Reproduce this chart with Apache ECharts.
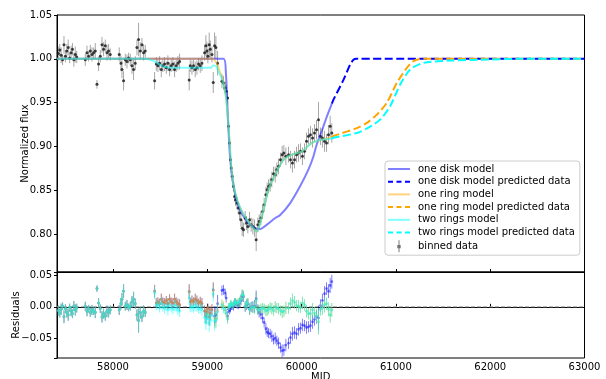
<!DOCTYPE html>
<html>
<head>
<meta charset="utf-8">
<script src="https://cdn.jsdelivr.net/npm/echarts@6.0.0/dist/echarts.min.js"></script>
<style>
  html, body { margin: 0; padding: 0; background: #fff; }
  #chart { width: 606px; height: 379px; }
</style>
</head>
<body>
<div id="chart"></div>
<script>
// binned light curve: MJD, normalized flux, 1-sigma error
const mjd = [
  57420, 57435, 57450, 57465, 57480, 57495, 57510, 57525, 57540, 57555, 57570, 57585, 57600, 57615,
  57706, 57724, 57741, 57759, 57777, 57794, 57812, 57830, 57847, 57865, 57883, 57900, 57918, 57936, 57953, 57971,
  58066, 58084, 58095, 58112, 58130, 58148, 58165, 58183, 58201, 58218, 58236, 58254, 58271, 58289, 58307, 58324, 58342,
  58441, 58459, 58476, 58494, 58512, 58529, 58547, 58565, 58582, 58600, 58617, 58635, 58653, 58670, 58688, 58706,
  58808, 58819, 58837, 58854, 58872, 58890, 58907, 58925, 58943,
  58971, 58985, 58996, 59006, 59020, 59031, 59049, 59063, 59077, 59091, 59109,
  59155, 59172, 59190, 59200, 59215, 59225, 59236, 59246, 59253, 59264,
  59278, 59289, 59299, 59314, 59328, 59342, 59356, 59370, 59384, 59402,
  59416, 59430, 59448, 59465, 59483, 59501, 59518, 59536, 59550, 59568,
  59586, 59603, 59621, 59635, 59649, 59667, 59684, 59702, 59720, 59737,
  59755, 59776, 59794, 59812, 59833, 59861, 59882, 59903, 59925, 59946,
  59967, 59988, 60009, 60031, 60052, 60073, 60094, 60116, 60137, 60158,
  60179, 60200, 60221, 60243, 60264, 60285, 60303, 60320
];
const flux = [
  1.006, 1.010, 1.004, 0.999, 1.016, 1.003, 1.009, 1.013, 1.001, 1.007, 1.011, 0.999, 1.005, 1.002,
  0.999, 1.007, 1.003, 1.009, 1.005, 1.007, 1.009, 0.971, 0.994, 1.003, 1.016, 1.011, 1.015, 1.007, 1.009, 1.005,
  1.005, 0.995, 0.988, 0.975, 0.999, 0.997, 1.001, 0.999, 0.992, 0.988, 0.995, 1.013, 1.022, 1.009, 1.016, 1.007, 1.009,
  0.975, 0.994, 0.992, 0.995, 0.988, 0.992, 0.994, 0.990, 0.995, 0.988, 0.992, 0.994, 0.988, 0.992, 0.995, 0.997,
  0.976, 0.992, 0.990, 0.992, 0.988, 0.990, 0.994, 0.992, 0.995,
  1.007, 1.015, 1.009, 1.003, 1.016, 1.011, 1.005, 0.973, 1.015, 1.013, 0.995,
  0.9745, 0.9726, 0.9669, 0.9631, 0.9555, 0.9231, 0.9041, 0.8851, 0.8756, 0.8661,
  0.8546, 0.8432, 0.8394, 0.8356, 0.8299, 0.8242, 0.8166, 0.8070, 0.8052, 0.8185,
  0.8128, 0.8090, 0.8166, 0.8109, 0.8090, 0.8070, 0.7938, 0.8109, 0.8147, 0.8185,
  0.8261, 0.8337, 0.8451, 0.8508, 0.8546, 0.8565, 0.8623, 0.8691, 0.8680, 0.8737,
  0.8775, 0.8851, 0.8908, 0.8927, 0.8889, 0.8908, 0.8851, 0.8813, 0.8851, 0.8908,
  0.8927, 0.8946, 0.8889, 0.8946, 0.9060, 0.9117, 0.9136, 0.9098, 0.9155, 0.9193,
  0.9307, 0.9117, 0.9098, 0.9060, 0.9041, 0.9136, 0.9231, 0.9155
];
const fluxErr = [
  0.008, 0.007, 0.009, 0.006, 0.010, 0.007, 0.008, 0.009, 0.006, 0.008, 0.007, 0.008, 0.009, 0.007,
  0.007, 0.008, 0.006, 0.007, 0.008, 0.006, 0.009, 0.005, 0.008, 0.007, 0.009, 0.008, 0.007, 0.009, 0.008, 0.007,
  0.008, 0.009, 0.010, 0.011, 0.007, 0.008, 0.006, 0.007, 0.009, 0.012, 0.008, 0.009, 0.019, 0.010, 0.008, 0.009, 0.007,
  0.010, 0.008, 0.007, 0.008, 0.009, 0.007, 0.008, 0.007, 0.009, 0.008, 0.007, 0.008, 0.009, 0.007, 0.008, 0.009,
  0.012, 0.007, 0.008, 0.007, 0.009, 0.008, 0.007, 0.008, 0.009,
  0.009, 0.012, 0.010, 0.008, 0.014, 0.010, 0.009, 0.012, 0.015, 0.013, 0.014,
  0.008, 0.008, 0.007, 0.007, 0.008, 0.006, 0.006, 0.006, 0.006, 0.006,
  0.006, 0.006, 0.007, 0.007, 0.007, 0.008, 0.008, 0.009, 0.008, 0.008,
  0.008, 0.008, 0.009, 0.008, 0.009, 0.010, 0.013, 0.008, 0.008, 0.008,
  0.008, 0.008, 0.009, 0.008, 0.008, 0.008, 0.009, 0.008, 0.009, 0.008,
  0.009, 0.008, 0.010, 0.009, 0.010, 0.009, 0.010, 0.011, 0.010, 0.009,
  0.010, 0.009, 0.010, 0.009, 0.010, 0.009, 0.010, 0.011, 0.010, 0.011,
  0.020, 0.010, 0.011, 0.012, 0.010, 0.011, 0.012, 0.011
];

// residuals (model - data) for each model, same points as above
const resDisk = [
  -0.006, -0.010, -0.004, 0.001, -0.016, -0.003, -0.009, -0.013, -0.001, -0.007, -0.011, 0.001, -0.005, -0.002,
  0.001, -0.007, -0.003, -0.009, -0.005, -0.007, -0.009, 0.029, 0.006, -0.003, -0.016, -0.011, -0.015, -0.007, -0.009, -0.005,
  -0.005, 0.005, 0.012, 0.025, 0.001, 0.003, -0.001, 0.001, 0.008, 0.012, 0.005, -0.013, -0.022, -0.009, -0.016, -0.007, -0.009,
  0.025, 0.006, 0.008, 0.005, 0.012, 0.008, 0.006, 0.010, 0.005, 0.012, 0.008, 0.006, 0.012, 0.008, 0.005, 0.003,
  0.024, 0.008, 0.010, 0.008, 0.012, 0.010, 0.006, 0.008, 0.005,
  -0.007, -0.015, -0.009, -0.003, -0.016, -0.011, -0.005, 0.027, -0.015, -0.013, 0.005,
  0.026, 0.027, 0.022, 0.014, -0.015, -0.004, -0.006, -0.003, 0.001, 0.001,
  0.000, 0.007, 0.007, 0.004, 0.003, 0.006, 0.010, 0.017, 0.016, 0.000,
  0.003, 0.005, -0.004, 0.000, 0.000, 0.001, 0.013, -0.004, -0.009, -0.012,
  -0.018, -0.025, -0.035, -0.040, -0.042, -0.043, -0.047, -0.052, -0.050, -0.054,
  -0.058, -0.065, -0.070, -0.069, -0.061, -0.058, -0.049, -0.043, -0.041, -0.043,
  -0.036, -0.034, -0.029, -0.030, -0.033, -0.032, -0.030, -0.024, -0.020, -0.016,
  -0.018, 0.002, 0.010, 0.021, 0.029, 0.025, 0.034, 0.040
];
const resRing = [
  -0.006, -0.010, -0.004, 0.001, -0.016, -0.003, -0.009, -0.013, -0.001, -0.007, -0.011, 0.001, -0.005, -0.002,
  0.001, -0.007, -0.003, -0.009, -0.005, -0.007, -0.009, 0.029, 0.006, -0.003, -0.016, -0.011, -0.015, -0.007, -0.009, -0.005,
  -0.005, 0.005, 0.012, 0.025, 0.001, 0.003, -0.001, 0.001, 0.008, 0.012, 0.005, -0.013, -0.022, -0.009, -0.016, -0.007, -0.009,
  0.025, 0.006, 0.008, 0.005, 0.012, 0.008, 0.006, 0.010, 0.005, 0.012, 0.008, 0.006, 0.012, 0.008, 0.005, 0.003,
  0.024, 0.008, 0.010, 0.008, 0.012, 0.010, 0.006, 0.008, 0.005,
  -0.007, -0.015, -0.009, -0.003, -0.016, -0.011, -0.005, 0.026, -0.019, -0.020, -0.006,
  0.004, 0.001, -0.005, -0.010, -0.019, 0.000, 0.001, 0.004, 0.005, 0.002,
  0.004, 0.008, 0.007, 0.005, 0.007, 0.008, 0.012, 0.019, 0.018, 0.001,
  0.005, 0.006, -0.004, -0.001, -0.001, -0.001, 0.010, -0.005, -0.005, -0.003,
  -0.002, -0.003, -0.006, -0.006, -0.004, -0.001, -0.003, -0.006, 0.000, -0.002,
  -0.003, -0.006, -0.008, -0.007, -0.002, -0.002, 0.005, 0.010, 0.007, 0.002,
  0.001, -0.001, 0.006, 0.003, -0.007, -0.011, -0.011, -0.005, -0.010, -0.014,
  -0.024, -0.004, -0.002, 0.003, 0.005, -0.004, -0.013, -0.005
];
const resTwo = [
  -0.006, -0.010, -0.004, 0.001, -0.016, -0.003, -0.009, -0.013, -0.001, -0.007, -0.011, 0.001, -0.005, -0.002,
  0.001, -0.007, -0.003, -0.009, -0.005, -0.007, -0.009, 0.029, 0.006, -0.003, -0.016, -0.011, -0.015, -0.007, -0.009, -0.005,
  -0.005, 0.005, 0.012, 0.025, 0.001, 0.003, -0.001, 0.001, 0.008, 0.012, 0.005, -0.013, -0.022, -0.009, -0.016, -0.007, -0.009,
  0.022, 0.002, 0.003, -0.001, 0.005, -0.001, -0.003, 0.001, -0.005, 0.002, -0.002, -0.004, 0.002, -0.002, -0.005, -0.007,
  0.014, -0.002, 0.000, -0.002, 0.002, 0.000, -0.004, -0.002, -0.005,
  -0.017, -0.025, -0.019, -0.013, -0.026, -0.021, -0.014, 0.020, -0.023, -0.021, -0.008,
  0.003, -0.002, -0.005, -0.010, -0.019, 0.000, 0.001, 0.004, 0.005, 0.002,
  0.004, 0.008, 0.007, 0.005, 0.007, 0.008, 0.012, 0.019, 0.018, 0.001,
  0.005, 0.006, -0.004, -0.001, -0.001, -0.001, 0.010, -0.005, -0.005, -0.003,
  -0.002, -0.003, -0.006, -0.006, -0.004, -0.001, -0.003, -0.006, 0.000, -0.002,
  -0.003, -0.006, -0.008, -0.007, -0.002, -0.002, 0.005, 0.010, 0.007, 0.002,
  0.001, -0.001, 0.006, 0.003, -0.007, -0.011, -0.011, -0.005, -0.010, -0.014,
  -0.024, -0.004, -0.002, 0.003, 0.005, -0.004, -0.013, -0.005
];

// model curves (fit range) and predictions after the last data point
const diskMjd = [57406, 59172, 59197, 59219, 59243, 59278, 59331, 59420, 59508, 59562, 59632, 59720, 59773, 59879, 59985, 60073, 60126, 60162, 60215, 60260, 60321];
const diskFlux = [1.0, 1.0, 0.984, 0.931, 0.885, 0.855, 0.832, 0.8146, 0.807, 0.806, 0.811, 0.8185, 0.822, 0.8356, 0.855, 0.874, 0.889, 0.903, 0.918, 0.932, 0.949];
const diskPredMjd = [60321, 60338, 60444, 60515, 60550, 60580, 63000];
const diskPredFlux = [0.949, 0.9535, 0.976, 0.9935, 0.999, 1.0, 1.0];

const ringMjd = [57406, 59056, 59137, 59172, 59190, 59209, 59225, 59243, 59261, 59296, 59349, 59420, 59490, 59526, 59561, 59596, 59649, 59720, 59808, 59897, 60003, 60109, 60215, 60321];
const ringFlux = [1.0, 1.0, 0.984, 0.974, 0.962, 0.945, 0.923, 0.893, 0.870, 0.847, 0.830, 0.8165, 0.807, 0.803, 0.8128, 0.828, 0.8508, 0.868, 0.8851, 0.8908, 0.8946, 0.9041, 0.9079, 0.9106];
const ringPredMjd = [60321, 60338, 60586, 60692, 60798, 60904, 61010, 61116, 61180, 61239, 61300, 63000];
const ringPredFlux = [0.9106, 0.912, 0.921, 0.927, 0.9364, 0.950, 0.9726, 0.9897, 0.997, 0.9995, 1.0, 1.0];

const twoMjd = [57406, 58342, 58420, 58480, 58530, 58600, 59040, 59060, 59090, 59120, 59155, 59172, 59190, 59209, 59225, 59243, 59261, 59296, 59349, 59420, 59490, 59526, 59561, 59596, 59649, 59720, 59808, 59897, 60003, 60109, 60215, 60321];
const twoFlux = [1.0, 1.0, 0.998, 0.9945, 0.9915, 0.990, 0.990, 0.9925, 0.992, 0.985, 0.977, 0.971, 0.962, 0.945, 0.923, 0.893, 0.870, 0.847, 0.830, 0.8165, 0.807, 0.803, 0.8128, 0.828, 0.8508, 0.868, 0.8851, 0.8908, 0.8946, 0.9041, 0.9079, 0.909];
const twoPredMjd = [60321, 60338, 60586, 60700, 60833, 60939, 61045, 61151, 61292, 61575, 61900, 62300, 63000];
const twoPredFlux = [0.909, 0.910, 0.9155, 0.921, 0.9307, 0.946, 0.9707, 0.9878, 0.9954, 0.998, 0.999, 1.0, 1.0];

// tick labels
const xTicks = [58000, 59000, 60000, 61000, 62000, 63000];
const fluxTicks = [0.80, 0.85, 0.90, 0.95, 1.00, 1.05];
const resTicks = [-0.05, 0.00, 0.05];

const font = "DejaVu Sans";
const zip = (xs, ys) => xs.map((x, i) => [x, ys[i]]);
const near = (list, v) => list.some(t => Math.abs(t - v) < 1e-7);

// legend handles, drawn like matplotlib's
const solidIcon = "path://M0,0H22V2H0Z";
const dashedIcon = "path://M0,0H5V2H0Z M8.5,0H13.5V2H8.5Z M17,0H22V2H17Z";
const errIcon = "path://M4.6,0H5.4V10H4.6Z M3.6,4H6.4V6.8H3.6Z";

// error bar + dot drawn in data coords
function errorBars(barColor, dotColor, r) {
  return function (params, api) {
    const x = api.value(0), y = api.value(1), e = api.value(2);
    const top = api.coord([x, y + e]);
    const bot = api.coord([x, y - e]);
    const mid = api.coord([x, y]);
    return {
      type: "group",
      children: [
        { type: "line", shape: { x1: top[0], y1: top[1], x2: bot[0], y2: bot[1] }, style: { stroke: barColor, lineWidth: 1 } },
        { type: "circle", shape: { cx: mid[0], cy: mid[1], r: r }, style: { fill: dotColor } }
      ]
    };
  };
}

function modelLine(name, data, color, dashed) {
  return {
    name: name,
    type: "line",
    xAxisIndex: 0,
    yAxisIndex: 0,
    data: data,
    symbol: "none",
    smooth: 0.25,
    z: 3,
    lineStyle: { color: color, width: 2, type: dashed ? [8, 3.5] : "solid" },
    itemStyle: { color: color }
  };
}

function residualSeries(name, res, color) {
  return {
    name: name,
    type: "custom",
    xAxisIndex: 1,
    yAxisIndex: 1,
    clip: true,
    encode: { x: 0, y: 1 },
    data: mjd.map((m, i) => [m, res[i], fluxErr[i]]),
    renderItem: errorBars(color, color, 1.4),
    z: 2
  };
}

const chart = echarts.init(document.getElementById("chart"));
const axisText = { color: "#000", fontFamily: font, fontSize: 10 };

const option = {
  animation: false,
  backgroundColor: "#fff",
  textStyle: { fontFamily: font },
  grid: [
    { left: 57, right: 21.5, top: 15, height: 257, outerBoundsMode: "none", show: true, borderColor: "#000", borderWidth: 1 },
    { left: 57, right: 21.5, top: 272, height: 86, outerBoundsMode: "none", show: true, borderColor: "#000", borderWidth: 1 }
  ],
  xAxis: [
    {
      gridIndex: 0, type: "value", min: 57406, max: 63000,
      axisLine: { lineStyle: { color: "#000" } },
      axisTick: { inside: true, length: 3, lineStyle: { color: "#000" } },
      axisLabel: { show: false },
      splitLine: { show: false }
    },
    {
      gridIndex: 1, type: "value", min: 57406, max: 63000,
      name: "MJD", nameLocation: "middle", nameGap: 14.5, nameMoveOverlap: false, nameTextStyle: axisText,
      axisLine: { lineStyle: { color: "#000" } },
      axisTick: { inside: true, length: 3, lineStyle: { color: "#000" } },
      axisLabel: Object.assign({ margin: 4, formatter: v => (near(xTicks, v) ? String(v) : "") }, axisText),
      splitLine: { show: false }
    }
  ],
  yAxis: [
    {
      gridIndex: 0, type: "value", min: 0.757, max: 1.05, splitNumber: 5,
      name: "Normalized flux", nameLocation: "middle", nameGap: 27, nameMoveOverlap: false, nameTextStyle: axisText,
      axisLine: { show: true, lineStyle: { color: "#000" } },
      axisTick: { show: true, length: 3, lineStyle: { color: "#000" } },
      axisLabel: Object.assign({ margin: 5, formatter: v => (near(fluxTicks, v) ? v.toFixed(2) : "") }, axisText),
      splitLine: { show: false }
    },
    {
      gridIndex: 1, type: "value", min: -0.0816, max: 0.0555, splitNumber: 3,
      name: "Residuals", nameLocation: "middle", nameGap: 36, nameMoveOverlap: false, nameTextStyle: axisText,
      axisLine: { show: true, lineStyle: { color: "#000" } },
      axisTick: { show: true, length: 3, lineStyle: { color: "#000" } },
      axisLabel: Object.assign({
        margin: 5,
        formatter: v => (near(resTicks, v) ? (v < -1e-9 ? "\u2212" : "") + Math.abs(v).toFixed(2) : "")
      }, axisText),
      splitLine: { show: false }
    }
  ],
  legend: {
    orient: "vertical",
    left: 385,
    top: 161,
    padding: [3, 5, 3, 3],
    itemWidth: 22,
    itemHeight: 12,
    itemGap: 2.7,
    symbolKeepAspect: true,
    backgroundColor: "rgba(255,255,255,0.8)",
    borderColor: "#cccccc",
    borderWidth: 1,
    borderRadius: 3,
    textStyle: { color: "#000", fontFamily: font, fontSize: 10, padding: [0, 0, 0, 3] },
    data: [
      { name: "one disk model", icon: solidIcon },
      { name: "one disk model predicted data", icon: dashedIcon },
      { name: "one ring model", icon: solidIcon },
      { name: "one ring model predicted data", icon: dashedIcon },
      { name: "two rings model", icon: solidIcon },
      { name: "two rings model predicted data", icon: dashedIcon },
      { name: "binned data", icon: errIcon }
    ]
  },
  series: [
    {
      name: "binned data",
      type: "custom",
      xAxisIndex: 0,
      yAxisIndex: 0,
      encode: { x: 0, y: 1 },
      data: mjd.map((m, i) => [m, flux[i], fluxErr[i]]),
      renderItem: errorBars("rgba(0,0,0,0.35)", "rgba(30,30,30,0.85)", 1.5),
      itemStyle: { color: "rgba(0,0,0,0.55)" },
      z: 1
    },
    modelLine("one disk model", zip(diskMjd, diskFlux), "rgba(0,0,255,0.5)", false),
    modelLine("one disk model predicted data", zip(diskPredMjd, diskPredFlux), "#0000ff", true),
    modelLine("one ring model", zip(ringMjd, ringFlux), "rgba(255,165,0,0.5)", false),
    modelLine("one ring model predicted data", zip(ringPredMjd, ringPredFlux), "#ffa500", true),
    modelLine("two rings model", zip(twoMjd, twoFlux), "rgba(0,255,255,0.5)", false),
    modelLine("two rings model predicted data", zip(twoPredMjd, twoPredFlux), "#00ffff", true),
    {
      name: "zero",
      type: "line",
      xAxisIndex: 1,
      yAxisIndex: 1,
      data: [[57406, 0], [63000, 0]],
      symbol: "none",
      silent: true,
      z: 1,
      lineStyle: { color: "#999", width: 1, type: [4, 2] }
    },
    residualSeries("disk residuals", resDisk, "rgba(0,0,255,0.5)"),
    residualSeries("ring residuals", resRing, "rgba(255,165,0,0.5)"),
    residualSeries("two rings residuals", resTwo, "rgba(0,255,255,0.5)")
  ]
};

chart.setOption(option);
</script>
</body>
</html>
